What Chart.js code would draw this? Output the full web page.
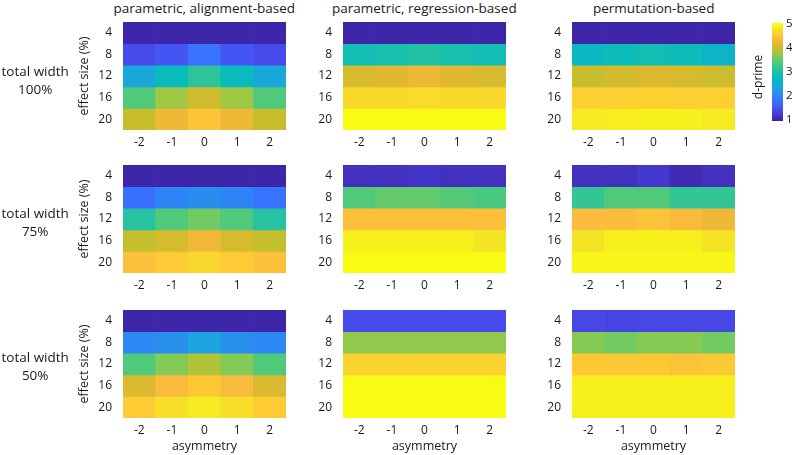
<!DOCTYPE html>
<html>
<head>
<meta charset="utf-8">
<script src="https://cdn.jsdelivr.net/npm/chart.js@4"></script>
<style>
  body { margin: 0; background: #fff; width: 792px; height: 455px; position: relative; overflow: hidden; font-family: 'Open Sans', sans-serif; color: #1a1a1a; }
  canvas { position: absolute; }
  .lbl { position: absolute; text-align: center; white-space: nowrap; }
</style>
</head>
<body>
<script>
// data (d-prime per cell; rows = effect size, cols = asymmetry)
const asymmetry = ['-2', '-1', '0', '1', '2'];
const effectSizes = ['4', '8', '12', '16', '20'];
const widths = ['100%', '75%', '50%'];
const methods = ['parametric, alignment-based', 'parametric, regression-based', 'permutation-based'];
const colorTicks = [1, 2, 3, 4, 5];

const align100 = [
  [1.0, 1.0, 1.0, 1.0, 1.0],
  [1.4, 1.5, 1.8, 1.5, 1.4],
  [2.45, 2.8, 3.15, 2.8, 2.45],
  [3.4, 3.8, 4.05, 3.8, 3.4],
  [4.0, 4.3, 4.5, 4.3, 4.0]
];
const regr100 = [
  [1.0, 1.0, 1.0, 1.0, 1.0],
  [2.9, 2.95, 3.05, 2.95, 2.9],
  [4.1, 4.18, 4.28, 4.18, 4.1],
  [4.7, 4.7, 4.72, 4.7, 4.68],
  [5.0, 5.0, 5.0, 5.0, 5.0]
];
const perm100 = [
  [1.0, 1.0, 1.0, 1.0, 1.0],
  [2.72, 2.82, 2.9, 2.82, 2.65],
  [4.0, 4.08, 4.15, 4.1, 4.02],
  [4.6, 4.6, 4.62, 4.6, 4.6],
  [4.85, 4.88, 4.9, 4.9, 4.85]
];
const align75 = [
  [1.0, 1.0, 1.0, 1.0, 1.0],
  [1.76, 2.0, 2.1, 2.0, 1.8],
  [3.08, 3.4, 3.58, 3.4, 3.08],
  [3.98, 4.1, 4.32, 4.1, 3.98],
  [4.46, 4.56, 4.68, 4.56, 4.46]
];
const regr75 = [
  [1.12, 1.12, 1.18, 1.12, 1.12],
  [3.4, 3.5, 3.5, 3.42, 3.35],
  [4.45, 4.45, 4.45, 4.45, 4.45],
  [4.9, 4.9, 4.9, 4.9, 4.82],
  [5.0, 5.0, 5.0, 5.0, 5.0]
];
const perm75 = [
  [1.12, 1.12, 1.2, 1.05, 1.12],
  [3.2, 3.4, 3.4, 3.2, 3.2],
  [4.42, 4.42, 4.48, 4.38, 4.3],
  [4.8, 4.9, 4.9, 4.9, 4.8],
  [4.95, 4.95, 4.95, 4.95, 4.95]
];
const align50 = [
  [1.0, 1.0, 1.0, 1.0, 1.0],
  [2.04, 2.12, 2.4, 2.12, 2.04],
  [3.4, 3.67, 3.88, 3.67, 3.4],
  [4.12, 4.4, 4.54, 4.38, 4.12],
  [4.56, 4.75, 4.85, 4.75, 4.56]
];
const regr50 = [
  [1.4, 1.4, 1.4, 1.4, 1.4],
  [3.74, 3.74, 3.74, 3.74, 3.74],
  [4.64, 4.64, 4.64, 4.64, 4.64],
  [5.0, 5.0, 5.0, 5.0, 5.0],
  [5.0, 5.0, 5.0, 5.0, 5.0]
];
const perm50 = [
  [1.36, 1.34, 1.36, 1.36, 1.36],
  [3.68, 3.58, 3.68, 3.68, 3.58],
  [4.54, 4.54, 4.54, 4.48, 4.54],
  [4.9, 4.9, 4.9, 4.9, 4.9],
  [4.9, 4.9, 4.9, 4.9, 4.9]
];

const grids = [
  [align100, regr100, perm100],
  [align75, regr75, perm75],
  [align50, regr50, perm50]
];

// colour limits and a parula-like colormap
const cmin = 1, cmax = 5;
const cbMin = 0.95, cbMax = 5.05;
const stops = [
  [0.00, 62, 38, 168], [0.05, 68, 55, 205], [0.10, 71, 75, 235], [0.15, 67, 95, 250],
  [0.20, 55, 115, 254], [0.25, 45, 132, 245], [0.30, 38, 150, 232], [0.35, 28, 165, 222],
  [0.40, 12, 178, 205], [0.45, 8, 187, 188], [0.50, 28, 192, 170], [0.55, 52, 197, 148],
  [0.60, 80, 201, 122], [0.65, 118, 203, 95], [0.70, 158, 200, 68], [0.75, 200, 190, 45],
  [0.80, 228, 183, 50], [0.85, 251, 187, 62], [0.90, 253, 207, 48], [0.95, 245, 228, 38],
  [1.00, 249, 251, 20]
];

function parula(v) {
  let t = (v - cmin) / (cmax - cmin);
  t = Math.max(0, Math.min(1, t));
  for (let i = 1; i < stops.length; i++) {
    if (t <= stops[i][0]) {
      const a = stops[i - 1], b = stops[i];
      const f = (t - a[0]) / (b[0] - a[0]);
      const c = [1, 2, 3].map(k => Math.round(a[k] + (b[k] - a[k]) * f));
      return 'rgb(' + c.join(',') + ')';
    }
  }
  return 'rgb(249,251,20)';
}

// layout
const colLeft = [123, 343, 572];
const rowTop = [22, 165, 310];
const PW = 163, PH = 108;
const AXW = 95, AXH = 36;
const txt = '#1a1a1a';
const tickFont = { family: 'Open Sans', size: 12 };
const axFont = { family: 'Open Sans', size: 12.5 };

function label(text, x, y, size, rot) {
  const d = document.createElement('div');
  d.className = 'lbl';
  d.innerHTML = text;
  d.style.fontSize = size + 'px';
  d.style.lineHeight = '18px';
  document.body.appendChild(d);
  d.style.left = (x - d.offsetWidth / 2) + 'px';
  d.style.top = (y - d.offsetHeight / 2) + 'px';
  if (rot) d.style.transform = 'rotate(' + rot + 'deg)';
}

// drop the extra room Chart.js keeps for edge labels
function noPad(s) {
  s.paddingTop = 0; s.paddingBottom = 0; s.paddingLeft = 0; s.paddingRight = 0;
}

function makePanel(grid, row, col) {
  const cv = document.createElement('canvas');
  cv.width = AXW + PW;
  cv.height = PH + AXH;
  cv.style.left = (colLeft[col] - AXW) + 'px';
  cv.style.top = rowTop[row] + 'px';
  document.body.appendChild(cv);

  new Chart(cv, {
    type: 'bar',
    data: {
      labels: asymmetry,
      datasets: effectSizes.map((e, i) => ({
        label: e,
        data: asymmetry.map(() => 1),
        backgroundColor: grid[i].map(parula),
        borderWidth: 0,
        barPercentage: 1,
        categoryPercentage: 1
      }))
    },
    options: {
      responsive: false,
      animation: false,
      events: [],
      layout: { padding: 0 },
      plugins: { legend: { display: false }, tooltip: { enabled: false } },
      scales: {
        x: {
          stacked: true,
          grid: { display: false, drawTicks: false },
          border: { display: false },
          ticks: { padding: 5, color: txt, font: tickFont },
          title: { display: row === 2, text: 'asymmetry', color: txt, font: axFont, padding: 0 },
          afterFit: s => { s.height = AXH; noPad(s); }
        },
        y: {
          stacked: true,
          min: 0,
          max: 5,
          reverse: true,
          grid: { display: false, drawTicks: false },
          border: { display: false },
          afterBuildTicks: s => { s.ticks = effectSizes.map((e, i) => ({ value: i + 0.5 })); },
          ticks: { padding: 11, color: txt, font: tickFont, callback: v => effectSizes[Math.floor(v)] },
          title: { display: col === 0, text: 'effect size (%)', color: txt, font: axFont, padding: { top: 49, bottom: 0 } },
          afterFit: s => { s.width = AXW; noPad(s); }
        }
      }
    }
  });
}

for (let r = 0; r < 3; r++) {
  for (let c = 0; c < 3; c++) makePanel(grids[r][c], r, c);
}

// column titles and row labels
methods.forEach((m, c) => label(m, colLeft[c] + PW / 2, 8, 13.5));
const rowLabelY = [80, 222, 366];
widths.forEach((w, r) => label('total width<br>' + w, 35, rowLabelY[r], 13.5));

// colorbar
const CBW = 20, CBPAD = 8;
const cb = document.createElement('canvas');
cb.width = 11 + CBW;
cb.height = 98 + 2 * CBPAD;
cb.style.left = '772px';
cb.style.top = (23 - CBPAD) + 'px';
document.body.appendChild(cb);

new Chart(cb, {
  type: 'bar',
  data: {
    labels: [''],
    datasets: [{
      data: [[cbMin, cbMax]],
      borderWidth: 0,
      barPercentage: 1,
      categoryPercentage: 1,
      backgroundColor: ctx => {
        const ch = ctx.chart;
        if (!ch.chartArea) return 'rgb(62,38,168)';
        const y = ch.scales.y;
        const g = ch.ctx.createLinearGradient(0, y.getPixelForValue(cmin), 0, y.getPixelForValue(cmax));
        stops.forEach(s => g.addColorStop(s[0], 'rgb(' + s[1] + ',' + s[2] + ',' + s[3] + ')'));
        return g;
      }
    }]
  },
  options: {
    responsive: false,
    animation: false,
    events: [],
    layout: { padding: { top: CBPAD, bottom: CBPAD, left: 0, right: 0 } },
    plugins: { legend: { display: false }, tooltip: { enabled: false } },
    scales: {
      x: { display: false },
      y: {
        position: 'right',
        min: cbMin,
        max: cbMax,
        grid: { display: false, drawTicks: false },
        border: { display: false },
        afterBuildTicks: s => { s.ticks = colorTicks.map(v => ({ value: v })); },
        ticks: { padding: 3, color: txt, font: { family: 'Open Sans', size: 11.5 } },
        afterFit: s => { s.width = CBW; noPad(s); }
      }
    }
  }
});

label('d-prime', 758, 77, 12, -90);
</script>
</body>
</html>
